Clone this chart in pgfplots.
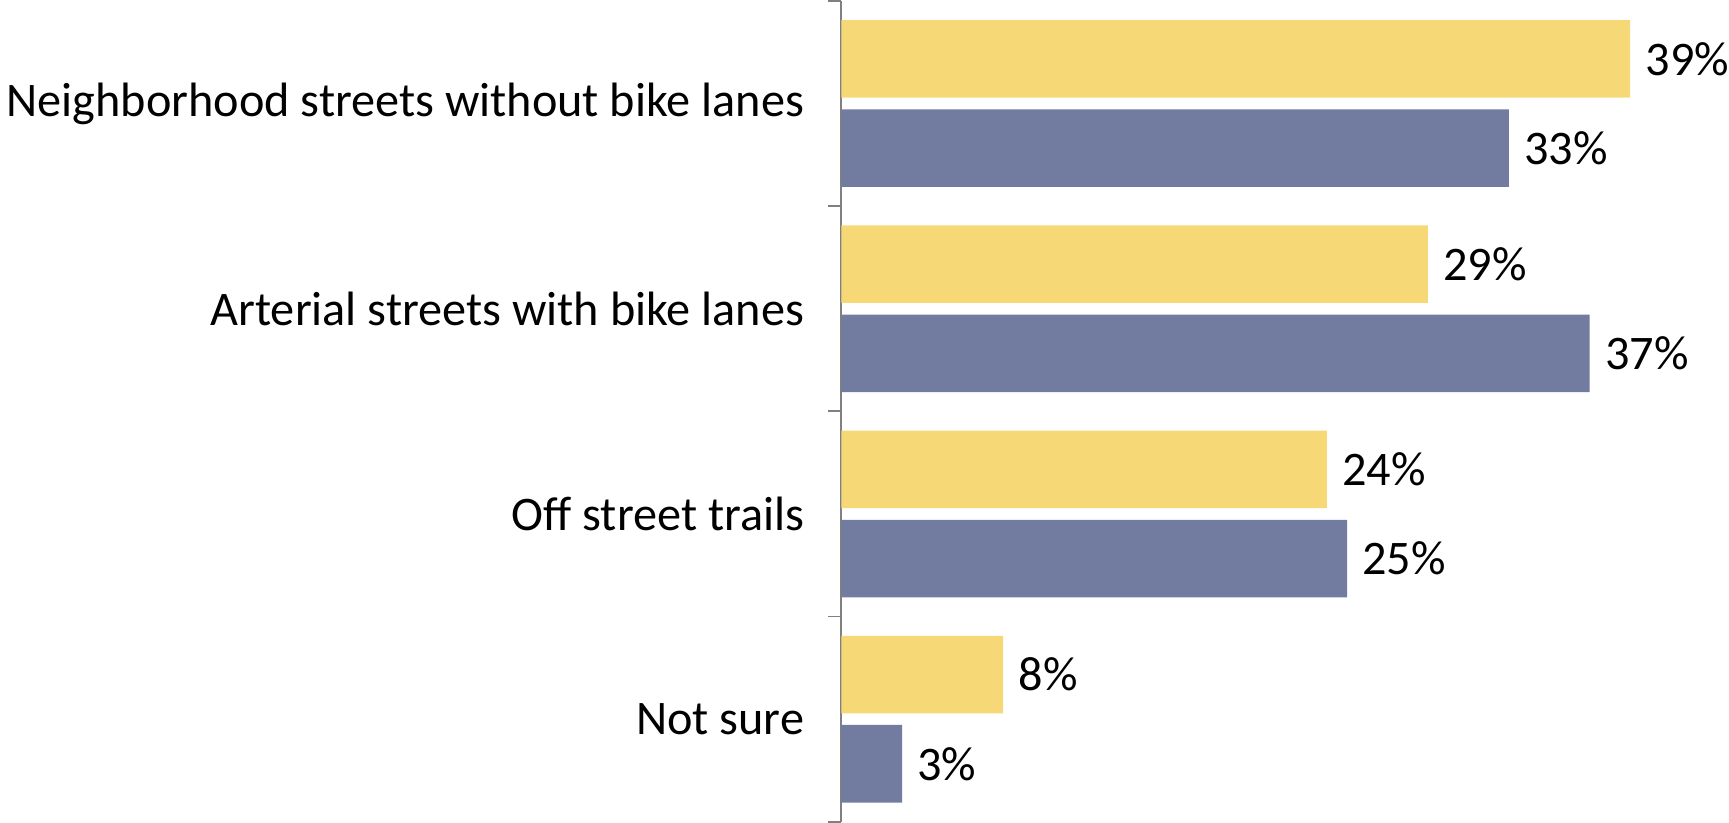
\documentclass[border=0pt]{standalone}
\usepackage{pgfplots}
\pgfplotsset{compat=1.18}
\usepackage{fontspec}
\setmainfont{Carlito}
\definecolor{ylw}{RGB}{247,216,118}
\definecolor{blu}{RGB}{114,123,160}
\definecolor{axgray}{RGB}{128,128,128}
\begin{document}
\begin{tikzpicture}
\begin{axis}[
  xbar,
  scale only axis,
  width=402.6pt, height=408.5pt,
  xmin=0, xmax=40,
  ymin=-0.5, ymax=3.5,
  axis x line=none,
  axis y line*=left,
  y axis line style={color=axgray, line width=0.9pt},
  ytick={0,1,2,3},
  yticklabels={Not sure, Off street trails, Arterial streets with bike lanes, Neighborhood streets without bike lanes},
  major tick length=0pt,
  minor ytick={-0.5,0.5,1.5,2.5,3.5},
  minor tick length=6.5pt,
  tick align=outside,
  tick style={color=axgray, line width=0.9pt},
  yticklabel style={font=\fontsize{24}{28}\selectfont, xshift=-15pt},
  /pgf/number format/assume math mode=true,
  bar width=38.6pt,
  nodes near coords={\pgfmathprintnumber{\pgfplotspointmeta}\%},
  nodes near coords style={font=\fontsize{24}{28}\selectfont, black, inner xsep=0pt, xshift=7.5pt},
  point meta=x,
  clip=false,
]
\addplot[fill=ylw, draw=none, bar shift=22.2pt] coordinates {(39,3) (29,2) (24,1) (8,0)};
\addplot[fill=blu, draw=none, bar shift=-22.2pt] coordinates {(33,3) (37,2) (25,1) (3,0)};
\end{axis}
\end{tikzpicture}
\end{document}
